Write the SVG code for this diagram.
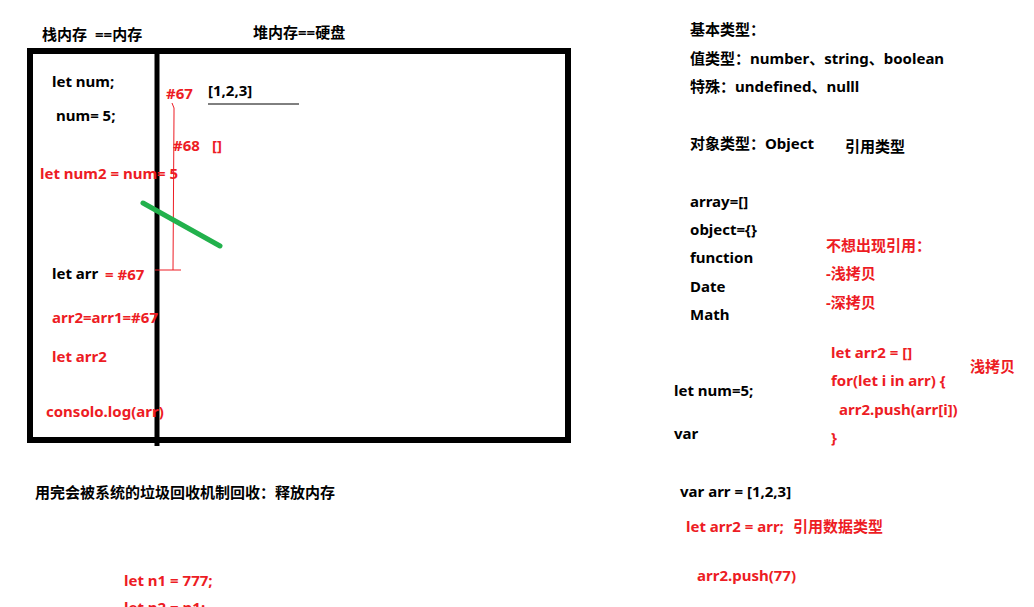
<svg xmlns="http://www.w3.org/2000/svg" width="1034" height="607" viewBox="0 0 1034 607">
<style>
text{font-family:"Noto Sans","Noto Sans CJK SC",sans-serif;font-size:15px;font-weight:bold;fill:#000}
.r{fill:#ed1c24}
</style>
<rect width="1034" height="607" fill="#fff"/>
<g id="memory-box">
<rect x="30" y="51" width="538" height="389" fill="none" stroke="#000" stroke-width="6"/>
<line x1="157" y1="50" x2="157" y2="446" stroke="#000" stroke-width="5"/>
</g>
<g id="connectors">
<path d="M172 103 Q175 108 174 113 L173 270" fill="none" stroke="#ed1c24" stroke-width="1"/>
<line x1="155" y1="270" x2="181" y2="270" stroke="#ed1c24" stroke-width="1"/>
<line x1="208" y1="104" x2="299" y2="104" stroke="#000" stroke-width="1"/>
<line x1="143" y1="203" x2="220" y2="246" stroke="#22b14c" stroke-width="5" stroke-linecap="round"/>
</g>
<g id="stack">
<text x="42" y="40">栈内存</text>
<text x="95" y="40">==内存</text>
<text x="52" y="87">let num;</text>
<text x="56" y="121">num= 5;</text>
<text class="r" x="40" y="179">let num2 = num= 5</text>
<text x="52" y="279">let arr</text>
<text class="r" x="105" y="280">= #67</text>
<text class="r" x="52" y="323">arr2=arr1=#67</text>
<text class="r" x="52" y="362">let arr2</text>
<text class="r" x="46" y="417">consolo.log(arr)</text>
</g>
<g id="heap">
<text x="253" y="38">堆内存==硬盘</text>
<text class="r" x="166" y="99">#67</text>
<text x="208" y="96">[1,2,3]</text>
<text class="r" x="173" y="151">#68</text>
<text class="r" x="212" y="151">[]</text>
</g>
<g id="notes-left">
<text x="35" y="498">用完会被系统的垃圾回收机制回收：释放内存</text>
<text class="r" x="124" y="586">let n1 = 777;</text>
<text class="r" x="124" y="613">let n2 = n1;</text>
</g>
<g id="types">
<text x="690" y="35">基本类型：</text>
<text x="690" y="64">值类型：number、string、boolean</text>
<text x="690" y="92">特殊：undefined、nulll</text>
<text x="690" y="149">对象类型：Object</text>
<text x="845" y="152">引用类型</text>
<text x="690" y="207">array=[]</text>
<text x="690" y="235">object={}</text>
<text x="690" y="263">function</text>
<text x="690" y="292">Date</text>
<text x="690" y="320">Math</text>
</g>
<g id="copy-notes">
<text class="r" x="826" y="251">不想出现引用：</text>
<text class="r" x="826" y="279">-浅拷贝</text>
<text class="r" x="826" y="308">-深拷贝</text>
<text class="r" x="831" y="358">let arr2 = []</text>
<text class="r" x="970" y="372">浅拷贝</text>
<text class="r" x="831" y="386">for(let i in arr) {</text>
<text class="r" x="839" y="415">arr2.push(arr[i])</text>
<text class="r" x="831" y="443">}</text>
</g>
<g id="examples">
<text x="674" y="396">let num=5;</text>
<text x="674" y="439">var</text>
<text x="680" y="497">var arr = [1,2,3]</text>
<text class="r" x="686" y="532">let arr2 = arr;</text>
<text class="r" x="793" y="532">引用数据类型</text>
<text class="r" x="697" y="581">arr2.push(77)</text>
</g>
</svg>
